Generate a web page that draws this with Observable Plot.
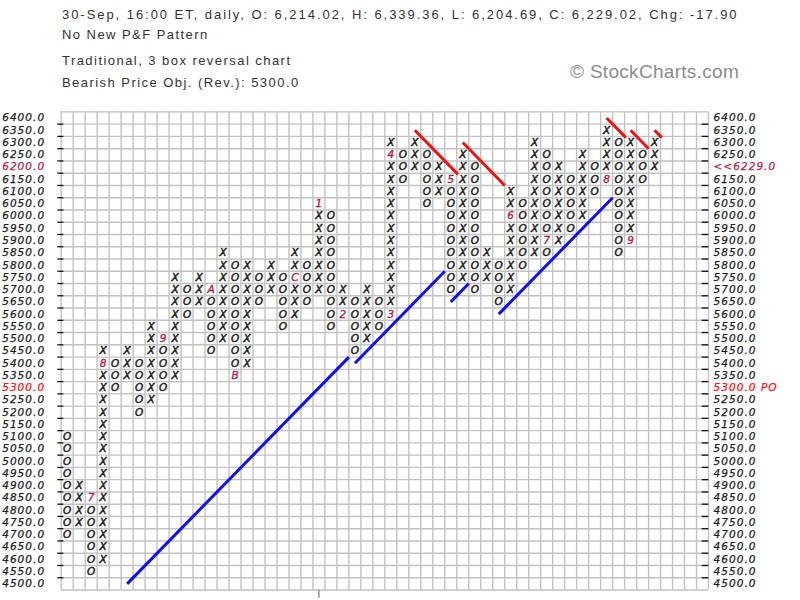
<!DOCTYPE html>
<html>
<head>
<meta charset="utf-8">
<script src="https://cdn.jsdelivr.net/npm/d3@7"></script>
<script src="https://cdn.jsdelivr.net/npm/@observablehq/plot@0.6"></script>
<style>
  body { margin: 0; background: #fff; }
  #page { position: relative; width: 800px; height: 600px; overflow: hidden; background: #fff; }
  #head { position: relative; height: 100px; font-family: "Liberation Sans", Arial, sans-serif; color: #333; }
  .ln { position: absolute; left: 62px; font-size: 13px; line-height: 13px; letter-spacing: 1.45px; white-space: nowrap; }
  #copy { position: absolute; left: 570px; top: 62px; font-size: 19px; line-height: 19px; letter-spacing: 0.3px; color: #8c8c8c; white-space: nowrap; }
  #chart svg { display: block; }
  g[aria-description="price labels"] text { letter-spacing: 1.05px; }
</style>
</head>
<body>
<div id="page">
  <div id="head">
    <div class="ln" style="top:8px; letter-spacing:1.95px">30-Sep, 16:00 ET, daily, O: 6,214.02, H: 6,339.36, L: 6,204.69, C: 6,229.02, Chg: -17.90</div>
    <div class="ln" style="top:28px">No New P&amp;F Pattern</div>
    <div class="ln" style="top:54px">Traditional, 3 box reversal chart</div>
    <div class="ln" style="top:76px">Bearish Price Obj. (Rev.): 5300.0</div>
    <div id="copy">© StockCharts.com</div>
  </div>
  <div id="chart"></div>
</div>
<script>
// Point & figure columns (box size 50, 3 box reversal), oldest first
const colKind = ["O","X","O","X","O","X","O","X","O","X",
                 "O","X","O","X","O","X","O","X","O","X",
                 "O","X","O","X","O","X","O","X","O","X",
                 "O","X","O","X","O","X","O","X","O","X",
                 "O","X","O","X","O","X","O","X","O","X"];
const colTop = [5100,4900,4850,5450,5400,5450,5400,5550,5500,5750,
                5700,5750,5700,5850,5800,5800,5750,5800,5750,5850,
                5800,6050,6000,5700,5650,5700,5650,6300,6250,6300,
                6250,6200,6150,6250,6200,5850,5800,6100,6050,6300,
                6250,6200,6150,6250,6200,6350,6300,6300,6250,6300];
const colBottom = [4700,4750,4550,4600,5300,5350,5200,5250,5300,5350,
                   5600,5650,5450,5500,5350,5400,5650,5700,5550,5600,
                   5650,5700,5550,5600,5450,5500,5550,5600,6150,6200,
                   6050,6100,5700,5750,5700,5750,5650,5700,5800,5850,
                   5850,5900,5950,6000,6100,6150,5850,5900,6150,6200];

// Month markers that take the place of a box
const markerCol   = [2, 3, 8, 12, 14, 19, 21, 23, 27, 27, 32, 37, 40, 45, 47];
const markerPrice = [4850, 5400, 5500, 5700, 5350, 5750, 6050, 5600, 5600, 6250, 6150, 6000, 5900, 6150, 5900];
const markerLabel = ["7","8","9","A","B","C","1","2","3","4","5","6","7","8","9"];

// Price rows shown on both axes
const priceLevels = [4500,4550,4600,4650,4700,4750,4800,4850,4900,4950,
                     5000,5050,5100,5150,5200,5250,5300,5350,5400,5450,
                     5500,5550,5600,5650,5700,5750,5800,5850,5900,5950,
                     6000,6050,6100,6150,6200,6250,6300,6350,6400];
const lastClose = 6229.0;
const lastCloseRow = 6200;
const priceObjective = 5300;
const yearStartCol = 21;

// Trend lines: [startCol, startPrice, endCol, endPrice]
const supportLines = [
  [5, 4500, 23.5, 5425],
  [24, 5400, 31.5, 5775],
  [32, 5650, 33.5, 5725],
  [36, 5600, 45.5, 6075]
];
const resistanceLines = [
  [29, 6350, 32.6, 6170],
  [33, 6300, 36.5, 6125],
  [45, 6400, 46.6, 6320],
  [47, 6350, 48.5, 6275],
  [49, 6350, 49.6, 6320]
];

const boxSize = 50;
const nCols = 54;

// expand columns into individual boxes
const markerKey = new Map(markerCol.map((c, i) => [c + ":" + markerPrice[i], markerLabel[i]]));
const boxes = [];
colKind.forEach((k, c) => {
  for (let p = colBottom[c]; p <= colTop[c]; p += boxSize) {
    if (!markerKey.has(c + ":" + p)) boxes.push({col: c, price: p, glyph: k});
  }
});
const markers = markerCol.map((c, i) => ({col: c, price: markerPrice[i], label: markerLabel[i]}));

const xEdges = d3.range(-0.5, nCols, 1);
const yEdges = priceLevels.map(p => p - boxSize / 2).concat([priceLevels[priceLevels.length - 1] + boxSize / 2]);
const innerEdges = yEdges.slice(1, -1);

const toSeg = a => ({x1: a[0], y1: a[1], x2: a[2], y2: a[3]});

const crimson = "#b81c4c";
const red = "#ff1010";
const ink = "#1e1e1e";
const glyphFont = "DejaVu Sans, Verdana, sans-serif";
const labelColor = d => d === priceObjective ? red : d === lastCloseRow ? crimson : ink;

const chart = Plot.plot({
  width: 800,
  height: 500,
  marginTop: 11.4,
  marginBottom: 10.5,
  marginLeft: 60.7,
  marginRight: 92,
  x: {type: "linear", domain: [-0.5, nCols - 0.5], axis: null},
  y: {type: "linear", domain: [yEdges[0], yEdges[yEdges.length - 1]], axis: null},
  style: {background: "#fff", overflow: "visible"},
  marks: [
    // grid of boxes
    Plot.ruleX(xEdges, {x: d => d, stroke: "#c2c2c2", strokeWidth: 1.4}),
    Plot.ruleY(yEdges, {y: d => d, stroke: "#c2c2c2", strokeWidth: 1.4}),
    // axis tick dashes on both sides
    Plot.ruleY(innerEdges, {y: d => d, x1: -0.78, x2: -0.28, stroke: "#111", strokeWidth: 1.3}),
    Plot.ruleY(innerEdges, {y: d => d, x1: 52.97, x2: 53.53, stroke: "#111", strokeWidth: 1.3}),
    // year divider below the grid
    Plot.ruleX([yearStartCol], {x: d => d, y1: yEdges[0], y2: yEdges[0] - 34, stroke: "#888", strokeWidth: 1.3}),
    // price labels
    Plot.text(priceLevels, {
      y: d => d, frameAnchor: "left", textAnchor: "end", dx: -16,
      text: d => d.toFixed(1), fill: labelColor, stroke: labelColor, strokeWidth: 0.25,
      fontStyle: "italic", fontSize: 10.5, fontFamily: glyphFont, ariaDescription: "price labels"
    }),
    Plot.text(priceLevels, {
      y: d => d, frameAnchor: "right", textAnchor: "start", dx: 5,
      text: d => d === lastCloseRow ? "<<" + lastClose.toFixed(1) : d === priceObjective ? d.toFixed(1) + " PO" : d.toFixed(1),
      fill: labelColor, stroke: labelColor, strokeWidth: 0.25,
      fontStyle: "italic", fontSize: 10.5, fontFamily: glyphFont, ariaDescription: "price labels"
    }),
    // trend lines
    Plot.link(supportLines.map(toSeg), {x1: "x1", y1: "y1", x2: "x2", y2: "y2", stroke: "#1010f0", strokeWidth: 3, strokeLinecap: "butt"}),
    Plot.link(resistanceLines.map(toSeg), {x1: "x1", y1: "y1", x2: "x2", y2: "y2", stroke: "#f01010", strokeWidth: 3, strokeLinecap: "butt"}),
    // X and O boxes
    Plot.text(boxes, {x: "col", y: "price", text: "glyph", fill: ink, stroke: ink, strokeWidth: 0.5,
      fontStyle: "italic", fontSize: 10.5, fontFamily: glyphFont}),
    // month markers
    Plot.text(markers, {x: "col", y: "price", text: "label", fill: crimson, stroke: crimson, strokeWidth: 0.4,
      fontStyle: "italic", fontSize: 10.5, fontFamily: glyphFont})
  ]
});
document.getElementById("chart").appendChild(chart);
</script>
</body>
</html>
